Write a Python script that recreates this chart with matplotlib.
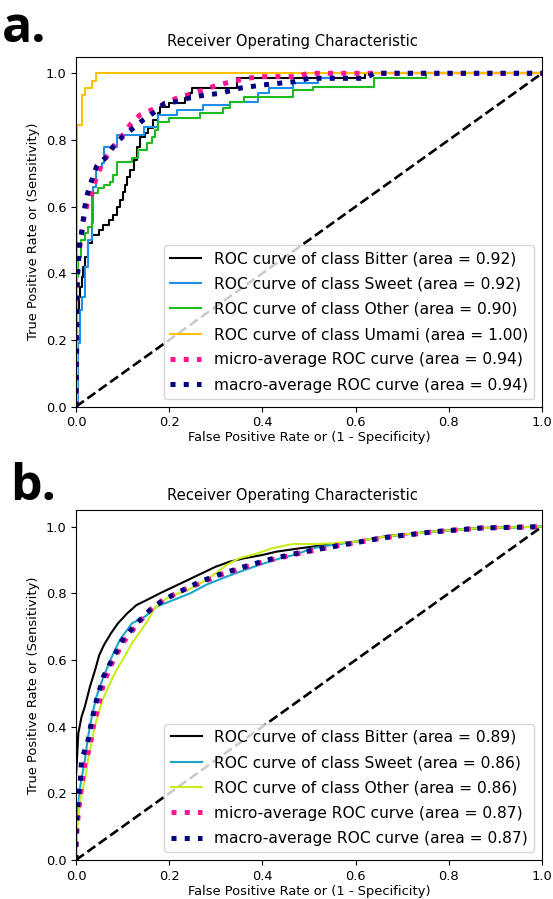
import matplotlib
matplotlib.use("Agg")
import matplotlib.pyplot as plt

# ---- panel a: step ROC curves (x = where the curve jumps, y = level after the jump)
a_bitter_fpr = [0, 0.002, 0.006, 0.009, 0.012, 0.016, 0.019, 0.025, 0.034, 0.05, 0.059, 0.07, 0.08, 0.087, 0.094,
                0.1, 0.105, 0.11, 0.116, 0.125, 0.13, 0.137, 0.148, 0.155, 0.165, 0.177, 0.18, 0.2, 0.235,
                0.245, 0.25, 0.345, 0.62, 1.0]
a_bitter_tpr = [0, 0.29, 0.33, 0.36, 0.39, 0.42, 0.45, 0.49, 0.515, 0.53, 0.545, 0.56, 0.575, 0.6, 0.62,
                0.645, 0.665, 0.69, 0.71, 0.74, 0.78, 0.81, 0.82, 0.835, 0.86, 0.88, 0.9, 0.91, 0.925,
                0.94, 0.955, 0.985, 1.0, 1.0]

a_sweet_fpr = [0, 0.005, 0.008, 0.012, 0.019, 0.025, 0.034, 0.037, 0.044, 0.055, 0.06, 0.087, 0.145, 0.177,
               0.216, 0.273, 0.33, 0.39, 0.415, 0.466, 0.52, 0.55, 1.0]
a_sweet_tpr = [0, 0.19, 0.29, 0.33, 0.42, 0.5, 0.55, 0.66, 0.72, 0.73, 0.78, 0.815, 0.84, 0.875,
               0.89, 0.905, 0.915, 0.94, 0.955, 0.97, 0.985, 1.0, 1.0]

a_other_fpr = [0, 0.002, 0.005, 0.01, 0.019, 0.025, 0.034, 0.048, 0.06, 0.074, 0.08, 0.087, 0.12, 0.134,
               0.152, 0.163, 0.17, 0.177, 0.2, 0.266, 0.316, 0.33, 0.36, 0.466, 0.508, 0.64, 0.752, 1.0]
a_other_tpr = [0, 0.39, 0.45, 0.5, 0.52, 0.54, 0.64, 0.655, 0.665, 0.675, 0.695, 0.735, 0.745, 0.77,
               0.79, 0.81, 0.83, 0.855, 0.865, 0.88, 0.895, 0.915, 0.93, 0.95, 0.96, 0.985, 1.0, 1.0]

a_umami_fpr = [0, 0.002, 0.012, 0.019, 0.034, 0.044, 1.0]
a_umami_tpr = [0, 0.845, 0.935, 0.955, 0.976, 1.0, 1.0]

a_micro_fpr = [0, 0.002, 0.003, 0.006, 0.009, 0.012, 0.015, 0.019, 0.025, 0.034, 0.044, 0.06, 0.08, 0.098,
               0.116, 0.137, 0.162, 0.193, 0.215, 0.252, 0.294, 0.32, 0.35, 0.39, 0.47, 0.5, 1.0]
a_micro_tpr = [0, 0.2, 0.4, 0.46, 0.49, 0.52, 0.55, 0.58, 0.61, 0.64, 0.69, 0.74, 0.78, 0.81,
               0.845, 0.875, 0.89, 0.91, 0.925, 0.94, 0.96, 0.97, 0.98, 0.99, 0.99, 1.0, 1.0]

a_macro_fpr = [0, 0.002, 0.003, 0.005, 0.008, 0.012, 0.019, 0.025, 0.034, 0.044, 0.066, 0.08, 0.1, 0.127,
               0.144, 0.17, 0.19, 0.215, 0.24, 0.277, 0.31, 0.35, 0.4, 0.47, 0.5, 0.62, 0.64, 1.0]
a_macro_tpr = [0, 0.3, 0.39, 0.42, 0.5, 0.52, 0.6, 0.64, 0.68, 0.72, 0.75, 0.78, 0.81, 0.84,
               0.86, 0.885, 0.91, 0.915, 0.925, 0.935, 0.94, 0.955, 0.965, 0.975, 0.985, 0.985, 1.0, 1.0]

a_labels = ["ROC curve of class Bitter (area = 0.92)",
            "ROC curve of class Sweet (area = 0.92)",
            "ROC curve of class Other (area = 0.90)",
            "ROC curve of class Umami (area = 1.00)",
            "micro-average ROC curve (area = 0.94)",
            "macro-average ROC curve (area = 0.94)"]

# ---- panel b: smooth ROC curves
b_bitter_fpr = [0, 0, 0.002, 0.005, 0.012, 0.019, 0.03, 0.041, 0.05, 0.06, 0.075, 0.09, 0.11, 0.13, 0.152,
                0.18, 0.21, 0.24, 0.27, 0.3, 0.33, 0.36, 0.4, 0.43, 0.48, 0.55, 0.6, 0.66, 0.77, 0.87, 1.0]
b_bitter_tpr = [0, 0.25, 0.3, 0.38, 0.43, 0.46, 0.52, 0.57, 0.615, 0.645, 0.68, 0.71, 0.74, 0.765, 0.78,
                0.8, 0.82, 0.84, 0.86, 0.88, 0.895, 0.905, 0.915, 0.925, 0.935, 0.948, 0.955, 0.97, 0.986, 0.996, 1.0]

b_sweet_fpr = [0, 0.002, 0.009, 0.019, 0.026, 0.034, 0.044, 0.059, 0.077, 0.094, 0.12, 0.148, 0.173, 0.209,
               0.245, 0.28, 0.323, 0.352, 0.395, 0.438, 0.47, 0.51, 0.55, 0.6, 0.66, 0.77, 0.87, 1.0]
b_sweet_tpr = [0, 0.12, 0.22, 0.3, 0.37, 0.43, 0.49, 0.55, 0.61, 0.66, 0.71, 0.73, 0.76, 0.78,
               0.8, 0.826, 0.85, 0.865, 0.886, 0.905, 0.916, 0.936, 0.945, 0.955, 0.97, 0.986, 0.996, 1.0]

b_other_fpr = [0, 0, 0.003, 0.009, 0.019, 0.026, 0.034, 0.044, 0.057, 0.075, 0.087, 0.1, 0.12, 0.14, 0.155,
               0.166, 0.18, 0.2, 0.24, 0.273, 0.3, 0.323, 0.35, 0.39, 0.42, 0.466, 0.51, 0.55, 0.6, 0.66,
               0.77, 0.87, 1.0]
b_other_tpr = [0, 0.03, 0.1, 0.18, 0.24, 0.3, 0.36, 0.42, 0.48, 0.536, 0.57, 0.6, 0.65, 0.69, 0.72,
               0.75, 0.77, 0.79, 0.81, 0.835, 0.86, 0.885, 0.905, 0.92, 0.935, 0.948, 0.948, 0.95, 0.955, 0.97,
               0.986, 0.996, 1.0]

b_micro_fpr = [0, 0, 0.005, 0.012, 0.019, 0.03, 0.037, 0.048, 0.059, 0.077, 0.1, 0.13, 0.159, 0.187, 0.23,
               0.266, 0.309, 0.366, 0.416, 0.48, 0.55, 0.6, 0.66, 0.77, 0.87, 1.0]
b_micro_tpr = [0, 0.05, 0.14, 0.22, 0.29, 0.34, 0.4, 0.46, 0.53, 0.59, 0.65, 0.705, 0.75, 0.78, 0.81,
               0.83, 0.855, 0.88, 0.9, 0.92, 0.94, 0.952, 0.967, 0.985, 0.996, 1.0]

b_macro_fpr = [0, 0, 0.005, 0.009, 0.012, 0.026, 0.034, 0.044, 0.059, 0.077, 0.1, 0.13, 0.159, 0.187, 0.23,
               0.266, 0.309, 0.366, 0.416, 0.48, 0.55, 0.6, 0.66, 0.77, 0.87, 1.0]
b_macro_tpr = [0, 0.08, 0.19, 0.23, 0.3, 0.36, 0.42, 0.48, 0.55, 0.6, 0.66, 0.71, 0.75, 0.78, 0.81,
               0.835, 0.857, 0.882, 0.902, 0.922, 0.94, 0.952, 0.967, 0.985, 0.996, 1.0]

b_labels = ["ROC curve of class Bitter (area = 0.89)",
            "ROC curve of class Sweet (area = 0.86)",
            "ROC curve of class Other (area = 0.86)",
            "micro-average ROC curve (area = 0.87)",
            "macro-average ROC curve (area = 0.87)"]

LW = 1.5
DOT_LW = 3.6
TICK_FS = 9.4
LEG_FS = 11.2


def style_axes(ax):
    ax.plot([0, 1], [0, 1], 'k--', lw=1.9)
    ax.set_xlim([0.0, 1.0])
    ax.set_ylim([0.0, 1.05])
    ax.set_xlabel('False Positive Rate or (1 - Specificity)', fontsize=TICK_FS, labelpad=1.5)
    ax.set_ylabel('True Positive Rate or (Sensitivity)', fontsize=TICK_FS)
    ax.text(0.465, 1.03, 'Receiver Operating Characteristic', transform=ax.transAxes,
            ha='center', va='baseline', fontsize=10.6)
    ax.tick_params(labelsize=TICK_FS)
    ax.legend(loc="lower right", fontsize=LEG_FS, labelspacing=0.66)


fig = plt.figure(figsize=(5.53, 8.99), dpi=100)

# panel a
ax1 = fig.add_axes([0.1374, 0.5477, 0.8427, 0.3893])
ax1.plot(a_bitter_fpr, a_bitter_tpr, color='black', lw=LW, drawstyle='steps-post', label=a_labels[0])
ax1.plot(a_sweet_fpr, a_sweet_tpr, color='#1e8ee8', lw=LW, drawstyle='steps-post', label=a_labels[1])
ax1.plot(a_other_fpr, a_other_tpr, color='#1dbb1d', lw=LW, drawstyle='steps-post', label=a_labels[2])
ax1.plot(a_umami_fpr, a_umami_tpr, color='#ffc000', lw=LW, drawstyle='steps-post', label=a_labels[3])
ax1.plot(a_micro_fpr, a_micro_tpr, color='deeppink', lw=DOT_LW, linestyle=':', label=a_labels[4])
ax1.plot(a_macro_fpr, a_macro_tpr, color='navy', lw=DOT_LW, linestyle=':', label=a_labels[5])
style_axes(ax1)

# panel b
ax2 = fig.add_axes([0.1374, 0.0434, 0.8427, 0.3893])
ax2.plot(b_bitter_fpr, b_bitter_tpr, color='black', lw=LW, label=b_labels[0])
ax2.plot(b_sweet_fpr, b_sweet_tpr, color='#1aa5c9', lw=LW, label=b_labels[1])
ax2.plot(b_other_fpr, b_other_tpr, color='#c6ef1a', lw=LW, label=b_labels[2])
ax2.plot(b_micro_fpr, b_micro_tpr, color='deeppink', lw=DOT_LW, linestyle=':', label=b_labels[3])
ax2.plot(b_macro_fpr, b_macro_tpr, color='navy', lw=DOT_LW, linestyle=':', label=b_labels[4])
style_axes(ax2)

fig.text(0.004, 0.9533, 'a.', fontsize=36, fontweight='bold', family='Open Sans', va='baseline')
fig.text(0.018, 0.4438, 'b.', fontsize=36, fontweight='bold', family='Open Sans', va='baseline')

fig.savefig('out.png', dpi=100)
